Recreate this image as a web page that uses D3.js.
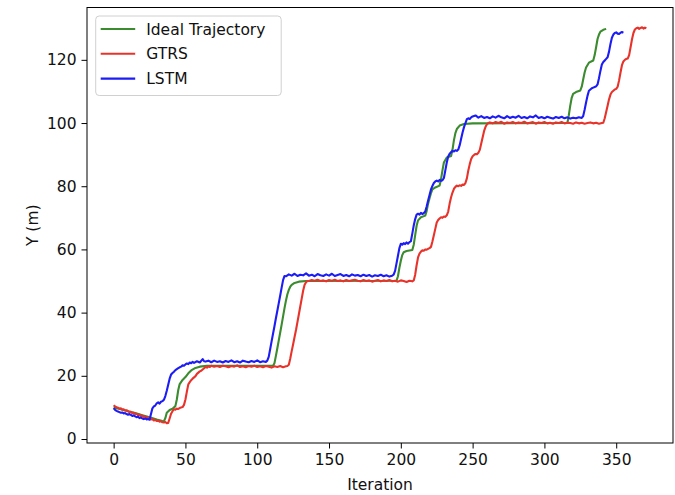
<!DOCTYPE html>
<html>
<head>
<meta charset="utf-8">
<script src="https://d3js.org/d3.v7.min.js"></script>
<style>
  body { margin: 0; background: #fff; }
  text { font-family: "DejaVu Sans", sans-serif; }
</style>
</head>
<body>
<div id="chart"></div>
<script>
// Data: [iteration, y]
var ideal = [
  [0,10.0],[5,9.4],[10,8.8],[15,8.2],[20,7.5],[25,6.9],[30,6.2],[34,5.7],[35,5.6],[36,6.6],[37,8.3],[39,9.2],
  [41,9.6],[43,10.4],[44,12.5],[45,15.5],[46,17.4],[48,18.7],[50,19.6],[52,20.8],[54,21.7],[57,22.5],[60,22.9],
  [65,23.2],[111,23.2],[112,24.0],[113,26.3],[114,28.7],[115,31.2],[116,33.7],[117,36.2],[118,38.8],[119,41.4],
  [120,43.8],[121,45.8],[122,47.2],[123,48.2],[124,48.8],[126,49.4],[129,49.8],[134,50.0],[197,50.1],[198,51.5],
  [199,54.2],[200,56.4],[201,58.2],[202,59.1],[204,59.5],[208,59.8],[209,61.5],[210,64.5],[211,67.5],[212,69.2],
  [214,70.2],[217,70.7],[218,72.2],[219,74.5],[220,76.2],[221,77.8],[222,79.0],[224,79.6],[227,80.2],[228,82.2],
  [229,85.0],[230,87.5],[232,89.1],[235,89.6],[236,91.6],[237,94.6],[238,96.8],[239,98.1],[241,99.2],[244,99.7],
  [250,99.9],[316,100.0],[317,102.5],[318,105.5],[319,108.0],[320,109.2],[322,109.8],[325,110.3],[326,111.5],
  [327,113.8],[328,116.0],[329,117.6],[331,119.1],[334,119.8],[335,121.5],[336,124.0],[337,126.6],[338,128.0],
  [339,128.9],[341,129.5],[343,129.8]
];

var gtrs = [
  [0,10.7],[1,10.3],[2,10.1],[3,9.9],[4,9.6],[5,9.7],[6,9.3],[7,9.4],[8,9.0],[9,9.1],[10,8.8],[11,8.5],[12,8.6],
  [13,8.2],[14,8.3],[15,7.9],[16,8.0],[17,7.6],[18,7.7],[19,7.3],[20,7.4],[21,7.0],[22,7.1],[23,6.7],[24,6.8],
  [25,6.5],[26,6.2],[27,6.3],[28,5.9],[29,6.0],[30,5.7],[31,5.8],[32,5.5],[33,5.6],[34,5.3],[35,5.2],[36,5.4],
  [37,5.0],[38,5.1],[39,6.5],[40,8.0],[41,8.8],[42,9.4],[43,9.3],[44,9.6],[45,9.5],[46,9.8],[47,10.0],[48,10.1],
  [49,10.8],[50,12.5],[51,15.0],[52,17.3],[53,18.0],[54,18.6],[55,19.1],[56,19.5],[57,19.9],[58,20.6],[59,21.0],
  [60,21.4],[61,21.6],[62,22.0],[63,22.4],[64,22.8],[65,22.6],[66,23.0],[67,22.8],[68,23.2],[70,22.9],[72,23.1],
  [74,22.8],[76,23.2],[78,23.0],[80,22.7],[82,23.1],[84,22.9],[86,23.3],[88,22.8],[90,23.0],[92,22.7],[94,23.1],
  [96,22.9],[98,23.2],[100,22.8],[102,23.0],[104,22.7],[106,23.1],[108,22.9],[110,22.6],[112,23.0],[114,22.8],
  [116,23.1],[118,22.7],[120,23.0],[121,23.1],[122,23.5],[123,25.5],[124,27.8],[125,30.0],[126,32.3],[127,34.5],
  [128,37.0],[129,39.5],[130,42.0],[131,44.5],[132,47.0],[133,48.8],[134,49.6],[135,50.0],[136,50.0],[138,50.3],
  [140,50.1],[142,50.4],[144,50.0],[146,50.2],[148,49.9],[150,50.3],[152,50.1],[154,50.4],[156,50.0],[158,50.2],
  [160,49.9],[162,50.3],[164,50.0],[166,50.2],[168,50.4],[170,50.1],[172,49.9],[174,50.3],[176,50.0],[178,50.2],
  [180,49.8],[182,50.1],[184,50.3],[186,49.9],[188,50.2],[190,50.0],[192,50.3],[194,49.9],[196,50.1],[198,49.8],
  [200,50.2],[202,50.0],[204,49.7],[206,50.1],[208,49.9],[209,50.2],[210,52.0],[211,55.0],[212,57.5],[213,58.7],
  [214,59.3],[215,59.7],[216,59.6],[217,60.0],[218,59.9],[219,60.2],[220,60.4],[221,60.8],[222,62.5],[223,64.5],
  [224,66.5],[225,68.5],[226,69.3],[227,69.8],[228,70.2],[229,70.0],[230,70.4],[231,70.3],[232,70.8],[233,72.0],
  [234,74.5],[235,76.5],[236,78.0],[237,79.2],[238,79.8],[239,80.2],[240,80.0],[241,80.3],[242,80.1],[243,80.5],
  [244,80.4],[245,81.0],[246,82.5],[247,85.0],[248,87.0],[249,88.6],[250,89.5],[251,89.9],[252,90.2],[253,90.1],
  [254,90.6],[255,91.5],[256,93.5],[257,95.5],[258,97.5],[259,98.8],[260,99.6],[261,100.0],[262,100.2],
  [264,99.9],[266,100.3],[268,100.0],[270,100.4],[272,99.8],[274,100.2],[276,100.0],[278,100.3],[280,99.9],
  [282,100.2],[284,100.0],[286,100.4],[288,99.9],[290,100.1],[292,100.3],[294,99.8],[296,100.2],[298,100.0],
  [300,100.3],[302,99.9],[304,100.1],[306,99.8],[308,100.2],[310,100.0],[312,100.3],[314,99.9],[316,100.1],
  [318,100.0],[320,99.8],[322,100.2],[324,99.9],[326,100.1],[328,99.8],[330,100.0],[332,100.2],[334,99.9],
  [336,100.1],[338,99.8],[340,100.0],[341,100.1],[342,101.5],[343,103.5],[344,105.5],[345,107.5],[346,109.0],
  [347,109.8],[348,110.2],[349,110.6],[350,110.8],[351,111.5],[352,113.5],[353,116.0],[354,118.3],[355,119.5],
  [356,120.0],[357,120.3],[358,120.4],[359,121.5],[360,124.0],[361,126.5],[362,128.5],[363,129.6],[364,130.0],
  [365,130.2],[366,129.8],[367,130.1],[368,130.3],[369,129.9],[370,130.2],[371,130.0]
];

var lstm = [
  [0,9.8],[1,9.2],[2,8.9],[3,8.7],[4,8.5],[5,8.3],[6,8.4],[7,8.1],[8,8.2],[9,7.9],[10,7.7],[11,7.9],[12,7.6],
  [13,7.3],[14,7.5],[15,7.2],[16,6.9],[17,7.1],[18,6.6],[19,6.8],[20,6.5],[21,6.3],[22,6.5],[23,6.2],[24,6.3],
  [25,6.1],[26,7.9],[27,9.7],[28,10.3],[29,10.6],[30,11.3],[31,11.6],[32,11.2],[33,11.8],[34,12.0],[35,12.4],
  [36,13.6],[37,15.3],[38,17.2],[39,19.1],[40,20.4],[41,20.9],[42,21.3],[43,21.8],[44,22.1],[45,22.4],[46,22.7],
  [47,22.9],[48,23.3],[49,23.2],[50,23.6],[51,23.9],[52,23.7],[53,24.2],[54,24.0],[55,24.4],[56,24.1],[58,24.6],
  [60,24.2],[62,25.3],[63,24.6],[64,24.5],[66,24.8],[68,24.3],[70,24.8],[72,24.4],[74,24.6],[76,24.2],[78,24.7],
  [80,24.4],[82,24.9],[84,24.3],[86,24.6],[88,24.2],[90,24.8],[92,24.5],[94,24.3],[96,24.7],[98,24.4],[100,24.9],
  [102,24.3],[104,24.6],[106,24.4],[107,24.8],[108,26.0],[109,28.4],[110,30.9],[111,33.3],[112,35.7],[113,38.2],
  [114,40.6],[115,43.0],[116,45.4],[117,47.9],[118,50.3],[119,51.6],[120,51.5],[122,52.1],[124,51.7],[126,52.3],
  [128,51.6],[130,52.0],[132,51.8],[134,52.4],[136,51.7],[138,52.0],[140,51.5],[142,52.2],[144,51.8],[146,51.6],
  [148,52.1],[150,51.7],[152,52.3],[154,51.6],[156,51.9],[158,52.2],[160,51.6],[162,51.9],[164,51.5],[166,52.1],
  [168,51.7],[170,51.9],[172,51.5],[174,52.0],[176,51.6],[178,51.9],[180,51.4],[182,51.8],[184,51.6],[186,52.0],
  [188,51.5],[190,51.8],[192,51.4],[194,51.7],[195,52.0],[196,53.2],[197,55.6],[198,58.0],[199,60.4],[200,61.8],
  [201,61.5],[202,62.0],[203,61.7],[204,62.2],[205,61.8],[206,62.3],[207,62.6],[208,65.0],[209,67.6],[210,69.6],
  [211,71.0],[212,71.3],[213,71.0],[214,71.6],[215,71.2],[216,71.5],[217,72.0],[218,73.6],[219,75.5],[220,77.2],
  [221,79.0],[222,80.1],[223,81.0],[224,81.5],[225,81.8],[226,81.5],[227,82.0],[228,81.7],[229,81.9],[230,82.6],
  [231,85.0],[232,87.5],[233,89.4],[234,90.3],[235,90.8],[236,91.2],[237,91.0],[238,91.4],[239,91.2],[240,91.6],
  [241,93.0],[242,95.0],[243,97.0],[244,98.7],[245,100.0],[246,101.2],[247,101.5],[248,101.3],[249,101.8],
  [250,102.1],[252,102.4],[254,101.7],[256,102.2],[258,101.6],[260,101.9],[262,101.5],[264,102.1],[266,101.7],
  [268,102.3],[270,101.8],[272,101.5],[274,102.2],[276,101.6],[278,102.0],[280,101.7],[282,102.3],[284,101.6],
  [286,101.9],[288,101.5],[290,102.1],[292,101.8],[294,102.4],[296,101.6],[298,101.9],[300,101.5],[302,102.0],
  [304,101.7],[306,101.4],[308,101.9],[310,101.6],[312,102.0],[314,101.5],[316,101.8],[318,101.4],[320,101.7],
  [322,101.5],[324,101.8],[326,101.6],[327,102.2],[328,104.2],[329,106.5],[330,108.6],[331,110.2],[332,110.6],
  [333,111.0],[334,111.2],[335,111.4],[336,111.6],[337,112.2],[338,114.2],[339,116.5],[340,118.5],[341,119.3],
  [342,119.8],[343,120.3],[344,120.8],[345,122.6],[346,125.0],[347,127.0],[348,128.0],[349,128.5],[350,128.7],
  [351,128.3],[352,128.2],[353,128.6],[354,128.8],[355,128.6]
];

var seriesNames = ["Ideal Trajectory", "GTRS", "LSTM"];
var xTicks = [0, 50, 100, 150, 200, 250, 300, 350];
var yTicks = [0, 20, 40, 60, 80, 100, 120];

var svgWidth = 675;
var svgHeight = 495;

var margin = { top: 7.5, right: 2, bottom: 52, left: 87 };
var width = svgWidth - margin.left - margin.right;
var height = svgHeight - margin.top - margin.bottom;

var colors = ["#3b8b2f", "#e8332b", "#1c1cf5"];
var allSeries = [ideal, gtrs, lstm];

var svg = d3.select("#chart")
  .append("svg")
  .attr("width", svgWidth)
  .attr("height", svgHeight);

var chartGroup = svg.append("g")
  .attr("transform", `translate(${margin.left}, ${margin.top})`);

// Scales with matplotlib-like 5% padding
var allPts = ideal.concat(gtrs, lstm);
var xExt = d3.extent(allPts, d => d[0]);
var yExt = d3.extent(allPts, d => d[1]);
var xPad = (xExt[1] - xExt[0]) * 0.05;
var yPad = (yExt[1] - yExt[0]) * 0.05;

var xScale = d3.scaleLinear()
  .domain([xExt[0] - xPad, xExt[1] + xPad])
  .range([0, width]);

var yScale = d3.scaleLinear()
  .domain([yExt[0] - yPad, yExt[1] + yPad])
  .range([height, 0]);

// Axes
var bottomAxis = d3.axisBottom(xScale).tickValues(xTicks).tickSize(5.5).tickPadding(5);
var leftAxis = d3.axisLeft(yScale).tickValues(yTicks).tickSize(5.5).tickPadding(5);

var xAxisG = chartGroup.append("g")
  .attr("transform", `translate(0, ${height})`)
  .call(bottomAxis);

var yAxisG = chartGroup.append("g")
  .call(leftAxis);

[xAxisG, yAxisG].forEach(function(g) {
  g.select(".domain").remove();
  g.selectAll("line").attr("stroke", "#000").attr("stroke-width", 1);
  g.selectAll("text")
    .attr("font-family", "DejaVu Sans, sans-serif")
    .attr("font-size", "15.5px")
    .attr("fill", "#111");
});

// Lines
var line = d3.line()
  .x(d => xScale(d[0]))
  .y(d => yScale(d[1]));

chartGroup.append("defs").append("clipPath")
  .attr("id", "clip")
  .append("rect")
  .attr("width", width)
  .attr("height", height);

allSeries.forEach(function(s, i) {
  chartGroup.append("path")
    .datum(s)
    .attr("clip-path", "url(#clip)")
    .attr("fill", "none")
    .attr("stroke", colors[i])
    .attr("stroke-width", 2.1)
    .attr("stroke-linejoin", "round")
    .attr("d", line);
});

// Frame
chartGroup.append("rect")
  .attr("width", width)
  .attr("height", height)
  .attr("fill", "none")
  .attr("stroke", "#000")
  .attr("stroke-width", 1);

// Legend
var legend = chartGroup.append("g")
  .attr("transform", `translate(${95.7 - margin.left}, ${16 - margin.top})`);

legend.append("rect")
  .attr("width", 185.5)
  .attr("height", 79.5)
  .attr("rx", 3.5)
  .attr("fill", "#fff")
  .attr("fill-opacity", 0.8)
  .attr("stroke", "#d0d0d0")
  .attr("stroke-width", 1);

seriesNames.forEach(function(name, i) {
  var yRow = 13 + i * 24.8;
  legend.append("line")
    .attr("x1", 5)
    .attr("x2", 39.5)
    .attr("y1", yRow)
    .attr("y2", yRow)
    .attr("stroke", colors[i])
    .attr("stroke-width", 2.1);
  legend.append("text")
    .attr("x", 50.5)
    .attr("y", yRow)
    .attr("dy", "0.36em")
    .attr("font-size", "15.5px")
    .attr("fill", "#111")
    .text(name);
});

// Axis labels
svg.append("text")
  .attr("x", margin.left + width / 2)
  .attr("y", 490)
  .attr("text-anchor", "middle")
  .attr("font-size", "15.5px")
  .attr("fill", "#111")
  .text("Iteration");

svg.append("text")
  .attr("transform", `translate(38, ${margin.top + height / 2}) rotate(-90)`)
  .attr("text-anchor", "middle")
  .attr("font-size", "15.5px")
  .attr("fill", "#111")
  .text("Y (m)");
</script>
</body>
</html>
